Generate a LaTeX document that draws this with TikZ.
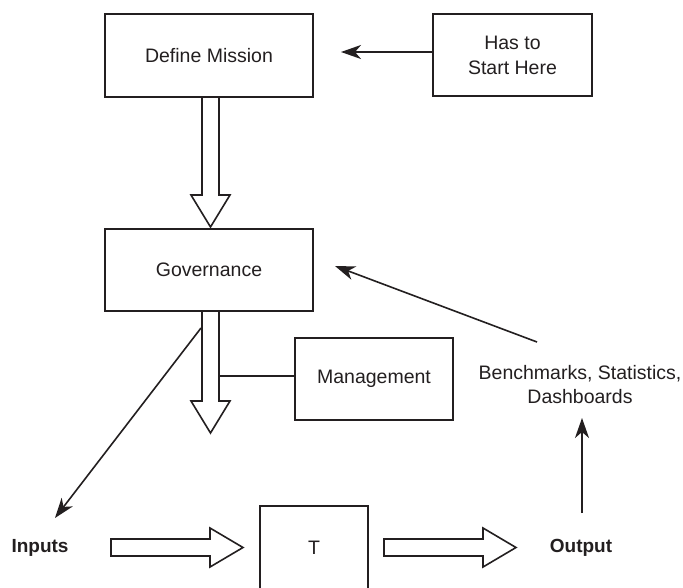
\documentclass[tikz,border=0pt]{standalone}
\usepackage{fontspec}
\setmainfont{Liberation Sans}
\usetikzlibrary{arrows.meta}
\definecolor{inkc}{RGB}{35,31,32}
\begin{document}
\begin{tikzpicture}[x=1pt,y=-1pt,
  ink/.style={draw=inkc, line width=1.6pt},
  box/.style={ink, rectangle, inner sep=0pt, align=center, text=inkc,
    font=\fontsize{19.5}{25}\selectfont},
  label/.style={inner sep=0pt, align=center, text=inkc,
    font=\fontsize{19.5}{24}\selectfont},
  boldlabel/.style={label, font=\fontsize{19}{24}\selectfont\bfseries},
  arrow/.style={ink, -{Stealth[length=20pt, width=14pt, inset=6pt]}},
  link/.style={ink},
  hollow/.style={ink, fill=white, line join=miter}]
\clip (0,0) rectangle (683,587);
\fill[white] (0,0) rectangle (683,587);

% boxes
\node[box, minimum width=208pt, minimum height=83pt] (mission) at (209,55.5) {Define Mission};
\node[box, minimum width=159pt, minimum height=82pt] (start) at (512.5,55) {Has to\\Start Here};
\node[box, minimum width=208pt, minimum height=82pt] (gov) at (209,270) {Governance};
\node[box, minimum width=158pt, minimum height=82pt] (mgmt) at (374,379) {Management};
\node[box, minimum width=108pt, minimum height=84pt] (t) at (314,548) {T};

% free labels
\node[boldlabel] (inputs) at (40,548) {Inputs};
\node[boldlabel] (output) at (581,548) {Output};
\node[label] (bench) at (580,385) {Benchmarks, Statistics,\\Dashboards};

% connector end points
\coordinate (missionin) at (341,52);
\coordinate (benchout) at (537,342);
\coordinate (govin) at (335,266);
\coordinate (outtop) at (582,513);
\coordinate (benchin) at (582,418);
\coordinate (diagstart) at (201,328);
\coordinate (inputsin) at (55,518);
\coordinate (mgmtjoin) at (219,376);
\coordinate (mgmtend) at (295,376);

% thin connectors
\draw[arrow] ([yshift=3pt]start.west) -- (missionin);
\draw[arrow] (benchout) -- (govin);
\draw[arrow] (outtop) -- (benchin);
\draw[arrow] (diagstart) -- (inputsin);
\draw[link] (mgmtjoin) -- (mgmtend);

% hollow block arrows
\draw[hollow] (202,97) -- (202,195) -- (191,195) -- (210.5,227) -- (230,195) -- (219,195) -- (219,97) -- cycle;
\draw[hollow] (202,311) -- (202,401) -- (191,401) -- (210.5,433) -- (230,401) -- (219,401) -- (219,311) -- cycle;
\draw[hollow] (111,539) -- (210,539) -- (210,528) -- (243,547.5) -- (210,567) -- (210,556) -- (111,556) -- cycle;
\draw[hollow] (384,539) -- (483,539) -- (483,528) -- (516,547.5) -- (483,567) -- (483,556) -- (384,556) -- cycle;
\end{tikzpicture}
\end{document}
